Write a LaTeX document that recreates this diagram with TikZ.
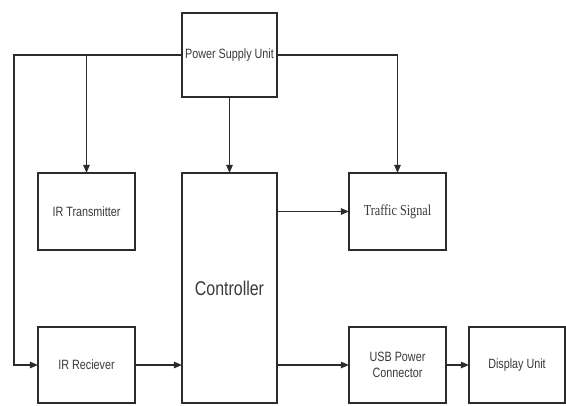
\documentclass[tikz,border=0pt]{standalone}
\usepackage{fontspec}
\setmainfont{Liberation Sans}
\newfontfamily\blocksans[FakeStretch=0.8]{Liberation Sans}
\newfontfamily\blockserif[FakeStretch=0.8]{Liberation Serif}
\usepackage{tikz}
\usetikzlibrary{positioning, arrows.meta, calc}
\definecolor{bInk}{HTML}{2B2B2B}
\definecolor{bText}{HTML}{3A3A3A}
\tikzset{
  block/.style={draw=bInk, line width=1.4pt, fill=white, text=bText, inner sep=2pt,
    outer sep=0pt, align=center, font=\blocksans\fontsize{11.5}{14}\selectfont},
  smallblock/.style={block, minimum width=2.91cm, minimum height=2.31cm},
  tallblock/.style={block, minimum width=2.85cm},
  conn/.style={draw=bInk, line width=1.3pt},
  feed/.style={conn, -{Triangle[length=7pt, width=5.5pt]}},
}

\begin{document}
\begin{tikzpicture}
  \useasboundingbox (0,0) rectangle (16.98,-12.15);
  % blocks
  \node[tallblock, minimum height=2.52cm] (psu) at (6.885,-1.65) {Power Supply Unit};
  \node[tallblock, minimum height=6.9cm, font=\blocksans\fontsize{17}{20}\selectfont] (ctrl) at (6.885,-8.64) {Controller};
  \node[smallblock] (irtx) at (2.595,-6.345) {IR Transmitter};
  \node[smallblock, font=\blockserif\fontsize{13}{15}\selectfont] (sig) at (11.925,-6.345) {\raisebox{-4pt}{Traffic Signal}};
  \node[smallblock, minimum height=2.28cm] (irrx) at (2.595,-10.95) {IR Reciever};
  \node[smallblock, minimum height=2.28cm] (usb) at (11.925,-10.95) {USB Power\\Connector};
  \node[smallblock, minimum height=2.28cm, minimum width=2.88cm] (disp) at (15.51,-10.95) {Display Unit};
  % supply lines
  \coordinate (rail) at (0.42,-1.65);
  \draw[feed] (psu.west) -- (rail) |- (irrx.west);
  \draw[feed] (irtx.north |- psu.west) -- (irtx.north);
  \draw[feed] (psu.east) -| (sig.north);
  \draw[feed] (psu.south) -- (ctrl.north);
  % signal lines
  \draw[feed] (irrx.east) -- (irrx.east -| ctrl.west);
  \draw[feed] (ctrl.east |- sig.west) -- (sig.west);
  \draw[feed] (ctrl.east |- usb.west) -- (usb.west);
  \draw[feed] (usb.east) -- (disp.west);
\end{tikzpicture}
\end{document}
